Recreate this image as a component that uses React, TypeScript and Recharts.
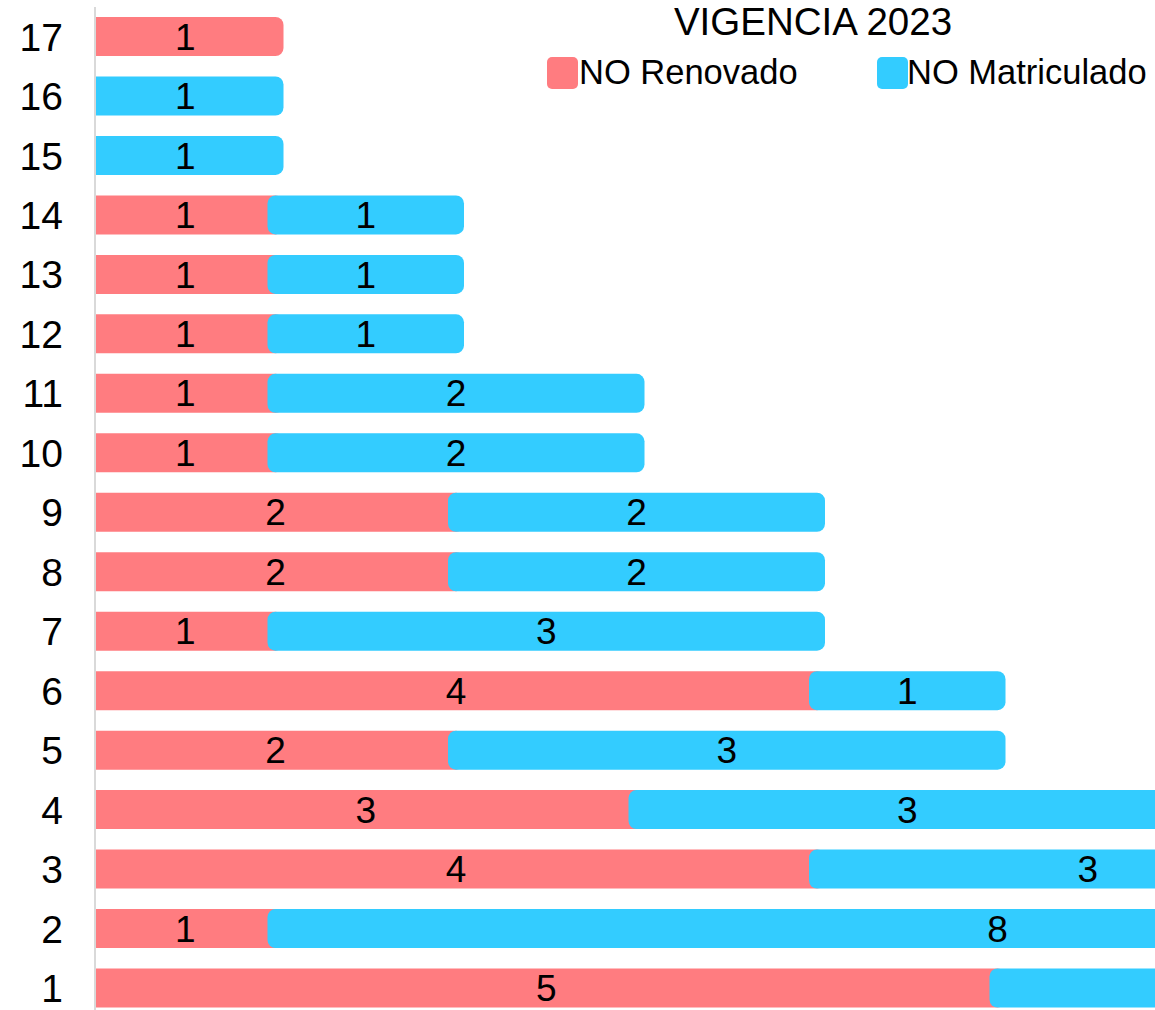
import { Bar, BarChart, LabelList, XAxis, YAxis } from "recharts";

const CATEGORIES = ["1", "2", "3", "4", "5", "6", "7", "8", "9", "10", "11", "12", "13", "14", "15", "16", "17"];
const NO_RENOVADO = [5, 1, 4, 3, 2, 4, 1, 2, 2, 1, 1, 1, 1, 1, 0, 0, 1];
const NO_MATRICULADO = [3, 8, 3, 3, 3, 1, 3, 2, 2, 2, 2, 1, 1, 1, 1, 1, 0];
const X_MAX = 10;

const RED = "#FF7C80";
const BLUE = "#33CCFF";
const FONT = '"Liberation Sans", Arial, sans-serif';
const CAP = 8; // rounded overhang past the end of each segment
const VIEW_W = 1155; // the chart is wider than the visible frame

const rows = CATEGORIES.map((cat, i) => ({
  cat,
  renovado: NO_RENOVADO[i],
  matriculado: NO_MATRICULADO[i],
}));

// rect with separate left/right corner radius
function roundedPath(x: number, y: number, w: number, h: number, rl: number, rr: number) {
  return [
    `M${x + rl},${y}`,
    `H${x + w - rr}`,
    rr ? `A${rr},${rr} 0 0 1 ${x + w},${y + rr}` : "",
    `V${y + h - rr}`,
    rr ? `A${rr},${rr} 0 0 1 ${x + w - rr},${y + h}` : "",
    `H${x + rl}`,
    rl ? `A${rl},${rl} 0 0 1 ${x},${y + h - rl}` : "",
    `V${y + rl}`,
    rl ? `A${rl},${rl} 0 0 1 ${x + rl},${y}` : "",
    "Z",
  ].join(" ");
}

function RedShape(props: any) {
  const { x, y, width, height } = props;
  if (!width || width <= 0) return <g />;
  return <path d={roundedPath(x, y, width + CAP, height, 0, CAP)} fill={RED} />;
}

function BlueShape(props: any) {
  const { x, y, width, height, payload } = props;
  if (!width || width <= 0) return <g />;
  const joined = payload && payload.renovado > 0;
  const left = joined ? x - CAP : x;
  const w = width + CAP + (joined ? CAP : 0);
  return <path d={roundedPath(left, y, w, height, joined ? CAP : 0, CAP)} fill={BLUE} />;
}

// value label in the middle of the segment; skip zeros and labels outside the frame
function SegmentLabel(props: any) {
  const vb = props.viewBox || props;
  const { x, y, width, height } = vb;
  const value = props.value;
  if (!(Number(value) > 0)) return null;
  const cx = x + width / 2;
  if (cx + 12 > VIEW_W) return null;
  return (
    <text
      x={cx}
      y={y + height / 2}
      dy="0.355em"
      textAnchor="middle"
      fill="#000"
      fontSize={37}
      fontFamily={FONT}
    >
      {value}
    </text>
  );
}

export default function App() {
  return (
    <div
      style={{
        position: "absolute",
        left: 0,
        top: 0,
        width: VIEW_W,
        height: 1010,
        overflow: "hidden",
        background: "#fff",
        fontFamily: FONT,
      }}
    >
      <BarChart
        width={95 + 1805}
        height={1018}
        data={rows}
        layout="vertical"
        margin={{ top: 7, right: 0, bottom: 0, left: 0 }}
        barSize={39}
      >
        <XAxis type="number" domain={[0, X_MAX]} hide />
        <YAxis
          type="category"
          dataKey="cat"
          reversed
          width={95}
          interval={0}
          tickLine={false}
          tickSize={0}
          tickMargin={32}
          axisLine={{ stroke: "#d9d9d9", strokeWidth: 2 }}
          tick={{ fontSize: 39, fill: "#000", fontFamily: FONT }}
        />
        <Bar dataKey="renovado" stackId="a" fill={RED} shape={RedShape} isAnimationActive={false}>
          <LabelList dataKey="renovado" content={SegmentLabel} />
        </Bar>
        <Bar dataKey="matriculado" stackId="a" fill={BLUE} shape={BlueShape} isAnimationActive={false}>
          <LabelList dataKey="matriculado" content={SegmentLabel} />
        </Bar>
      </BarChart>

      {/* legend with title, top right */}
      <div
        style={{
          position: "absolute",
          left: 613,
          top: 3,
          width: 400,
          textAlign: "center",
          fontSize: 38.5,
          lineHeight: "38.5px",
          color: "#000",
        }}
      >
        VIGENCIA 2023
      </div>
      <div style={{ position: "absolute", left: 547, top: 57, width: 31, height: 32, borderRadius: 5, background: RED }} />
      <div style={{ position: "absolute", left: 579, top: 55, fontSize: 34.5, lineHeight: "34.5px", whiteSpace: "nowrap" }}>
        NO Renovado
      </div>
      <div style={{ position: "absolute", left: 877, top: 57, width: 31, height: 32, borderRadius: 5, background: BLUE }} />
      <div style={{ position: "absolute", left: 907, top: 55, fontSize: 34.5, lineHeight: "34.5px", whiteSpace: "nowrap" }}>
        NO Matriculado
      </div>
    </div>
  );
}
